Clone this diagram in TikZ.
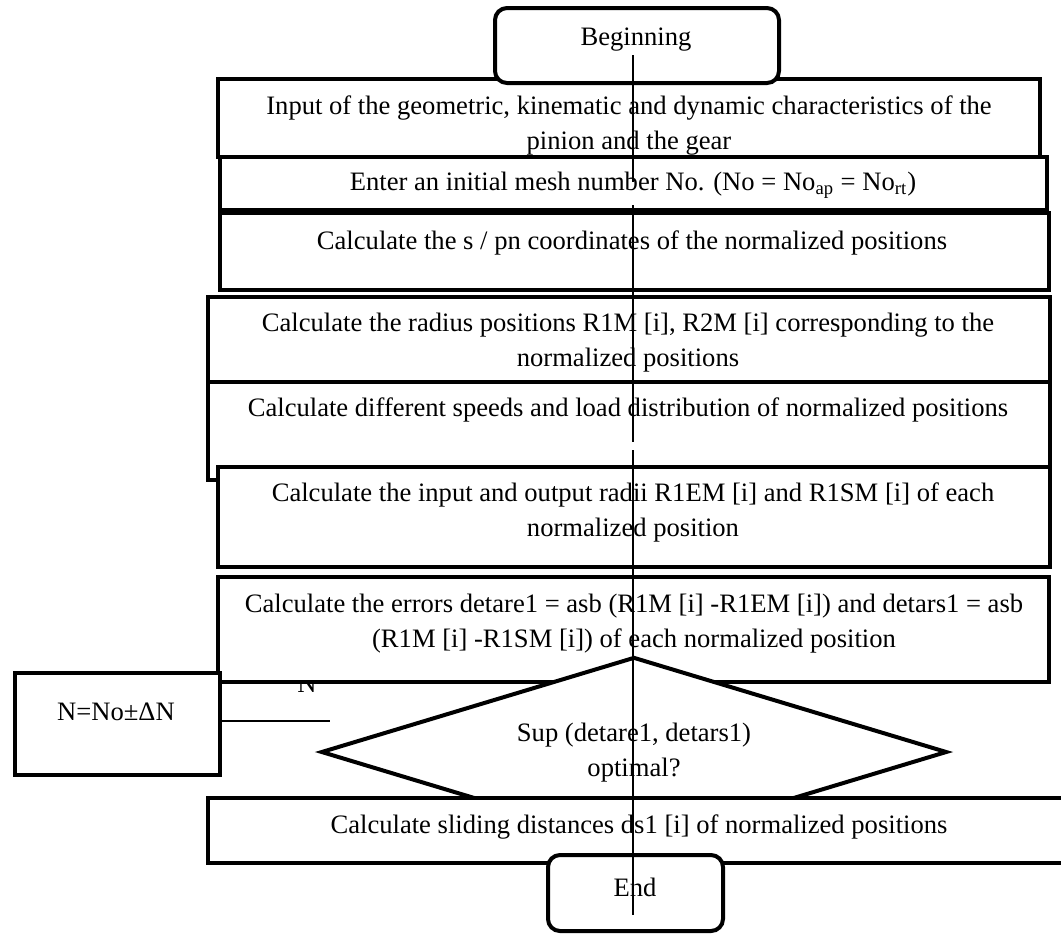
\documentclass[tikz,border=0pt]{standalone}
\usepackage{fontspec}
\setmainfont{Liberation Serif}
\usetikzlibrary{shapes.geometric}

\tikzset{
	frame/.style={draw, line width=2pt, fill=white, inner sep=0pt},
	term/.style={frame, rounded corners=6pt},
	txt/.style={align=center, inner sep=0pt, font=\fontsize{13.3}{17.5}\selectfont},
	flow/.style={line width=1pt},
}

\begin{document}
\begin{tikzpicture}[x=0.5pt, y=-0.5pt]
	\useasboundingbox (0,0) rectangle (1061,934);
	% process boxes, top to bottom
	\node[frame, minimum width=411pt, minimum height=39pt] (input) at (629,118) {};
	\node[txt] (input-t) at (629,125.5) {Input of the geometric, kinematic and dynamic characteristics of the\\pinion and the gear};
	\node[frame, minimum width=413.5pt, minimum height=26.5pt] (enter) at (633.5,183.5) {};
	\node[txt] (enter-t) at (633,185) {Enter an initial mesh number No. (No = No\textsubscript{ap} = No\textsubscript{rt})};
	\node[frame, minimum width=414.5pt, minimum height=38.5pt] (spn) at (634.5,251.5) {};
	\node[txt] (spn-t) at (632,243) {Calculate the s / pn coordinates of the normalized positions};
	\node[frame, minimum width=421pt, minimum height=42.5pt] (radius) at (629,339.5) {};
	\node[txt] (radius-t) at (628,342.5) {Calculate the radius positions R1M [i], R2M [i] corresponding to the\\normalized positions};
	\node[frame, minimum width=421pt, minimum height=49pt] (speeds) at (629,431) {};
	\node[txt] (speeds-t) at (628,410) {Calculate different speeds and load distribution of normalized positions};
	\node[frame, minimum width=416pt, minimum height=50pt] (radii) at (634,517) {};
	\node[txt] (radii-t) at (633,512.5) {Calculate the input and output radii R1EM [i] and R1SM [i] of each\\normalized position};
	% loop back
	\node[txt] (no) at (307,684) {N};
	\node[frame, minimum width=415.5pt, minimum height=52.5pt] (errors) at (633.5,629.5) {};
	\node[txt] (errors-t) at (634,623.5) {Calculate the errors detare1 = asb (R1M [i] -R1EM [i]) and detars1 = asb\\(R1M [i] -R1SM [i]) of each normalized position};
	\node[frame, minimum width=102.5pt, minimum height=51pt] (nbox) at (117.5,724) {};
	\node[txt] (nbox-t) at (116,712) {N=No±ΔN};
	\coordinate (nend) at (330,721);
	\draw[line width=0.8pt] (nbox.east |- nend) -- (nend);
	% test
	\node[frame, diamond, aspect=3.3, minimum width=313pt, minimum height=95pt] (test) at (634,752) {};
	\node[txt] (test-t) at (634,752.5) {Sup (detare1, detars1)\\optimal?};
	\node[frame, minimum width=433.5pt, minimum height=32.5pt] (sliding) at (641.5,830.5) {};
	\node[txt] (sliding-t) at (639,827) {Calculate sliding distances ds1 [i] of normalized positions};
	% start and stop
	\node[term, minimum width=142pt, minimum height=37.5pt] (begin) at (637,45.5) {};
	\node[txt] (begin-t) at (636,40) {Beginning};
	\node[term, minimum width=87.5pt, minimum height=38pt] (finish) at (635.5,893) {};
	\node[txt] (finish-t) at (635,887) {End};
	% flow line
	\coordinate (l0) at (633,55);
	\coordinate (l1) at (633,182);
	\coordinate (l2) at (633,205);
	\coordinate (l3) at (633,442);
	\coordinate (l4) at (633,450);
	\coordinate (l5) at (633,915);
	\draw[flow] (l0) -- (l1) (l2) -- (l3) (l4) -- (l5);
\end{tikzpicture}
\end{document}
